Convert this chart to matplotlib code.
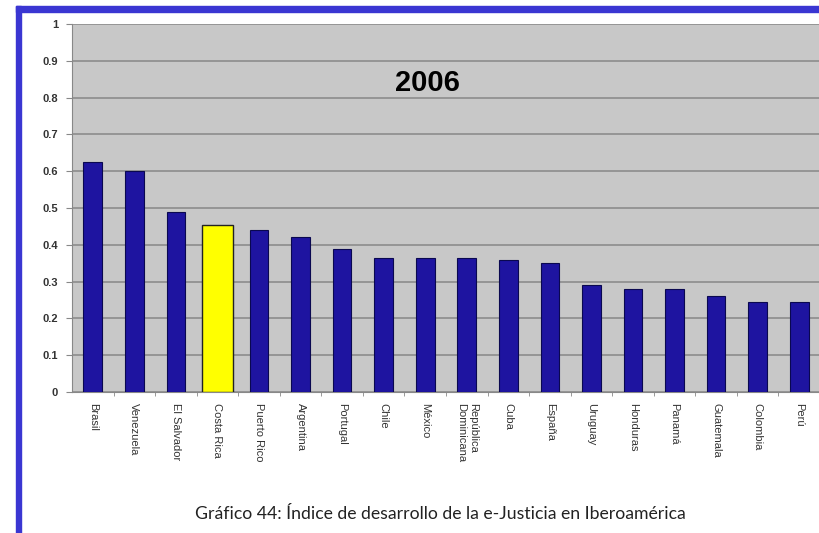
import numpy as np
import matplotlib.pyplot as plt
import matplotlib.ticker as mticker
from matplotlib.patches import Rectangle

# ── Data ─────────────────────────────────────────────────────────────────────
countries = [
    "Brasil", "Venezuela", "El Salvador", "Costa Rica", "Puerto Rico",
    "Argentina", "Portugal", "Chile", "México", "República\nDominicana",
    "Cuba", "España", "Uruguay", "Honduras", "Panamá", "Guatemala",
    "Colombia", "Perú",
]
index_2006 = [
    0.625, 0.600, 0.490, 0.454, 0.440, 0.420, 0.390, 0.365, 0.365, 0.365,
    0.360, 0.350, 0.290, 0.280, 0.280, 0.260, 0.245, 0.245,
]
highlight = "Costa Rica"
y_ticks = [0, 0.1, 0.2, 0.3, 0.4, 0.5, 0.6, 0.7, 0.8, 0.9, 1]

plt.rcParams["font.family"] = ["Liberation Sans", "DejaVu Sans"]

# ── Figure ───────────────────────────────────────────────────────────────────
fig = plt.figure(figsize=(8.2, 5.33), dpi=100)
fig.patch.set_facecolor("white")
ax = fig.add_axes([0.0878, 0.2645, 0.9122, 0.6904])
ax.set_facecolor("#C8C8C8")

x = np.arange(len(countries))
for i, (name, val) in enumerate(zip(countries, index_2006)):
    if name == highlight:
        ax.bar(i, val, width=0.73, color="#FFFF00", edgecolor="#222222",
               linewidth=1.0, zorder=3)
    else:
        ax.bar(i, val, width=0.45, color="#1E14A0", edgecolor="#0A0850",
               linewidth=0.8, zorder=3)

ax.set_ylim(0, 1)
ax.set_xlim(-0.5, 17.06)
ax.yaxis.set_major_locator(mticker.FixedLocator(y_ticks))
ax.yaxis.set_major_formatter(mticker.FixedFormatter([f"{t:g}" for t in y_ticks]))
ax.grid(axis="y", color="#8C8C8C", linewidth=1.2, zorder=1)
ax.set_axisbelow(True)

ax.set_xticks(x)
ax.set_xticklabels(countries, rotation=-90, ha="center", va="top",
                   fontsize=8, color="#333333", linespacing=1.25,
                   multialignment="left")
ax.set_xticks(np.arange(0.5, len(countries), 1), minor=True)
ax.tick_params(axis="x", which="major", length=0, pad=8)
ax.tick_params(axis="x", which="minor", length=3, color="#888888")
ax.tick_params(axis="y", length=4, color="#888888", labelsize=8,
               labelcolor="#333333", pad=6)
for lbl in ax.get_yticklabels():
    lbl.set_fontweight("bold")

for side in ("top", "right"):
    ax.spines[side].set_visible(False)
ax.spines["left"].set_color("#888888")
ax.spines["bottom"].set_color("#888888")

ax.text(0.475, 0.84, "2006", transform=ax.transAxes, fontsize=21,
        fontweight="bold", ha="center", va="center", color="black")

# caption
fig.text(0.537, 0.035, "Gráfico 44: Índice de desarrollo de la e-Justicia en Iberoamérica",
         family="Lato", fontsize=12.7, ha="center", va="center", color="#222222")

# blue frame (top and left edges)
fig.patches.append(Rectangle((16 / 820, (533 - 12) / 533), 1, 6 / 533,
                             transform=fig.transFigure, color="#3A36D2",
                             zorder=10))
fig.patches.append(Rectangle((16 / 820, 0), 5 / 820, (533 - 6) / 533,
                             transform=fig.transFigure, color="#3A36D2",
                             zorder=10))

fig.savefig("out.png", dpi=100)
